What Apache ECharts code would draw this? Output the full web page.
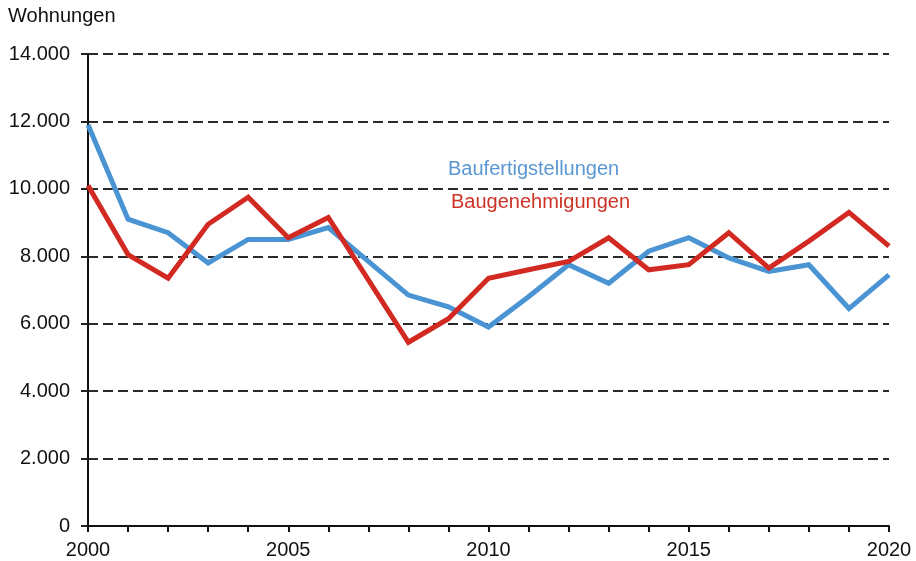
<!DOCTYPE html>
<html>
<head>
<meta charset="utf-8">
<script src="https://cdn.jsdelivr.net/npm/echarts@6/dist/echarts.min.js"></script>
<style>
  html, body { margin: 0; padding: 0; background: #fff; }
  #chart { width: 916px; height: 561px; }
</style>
</head>
<body>
<div id="chart"></div>
<script>
// Jahre 2000 - 2020
const years = ['2000', '2001', '2002', '2003', '2004', '2005', '2006', '2007', '2008', '2009', '2010',
    '2011', '2012', '2013', '2014', '2015', '2016', '2017', '2018', '2019', '2020'];
// Baufertigstellungen (blau)
const fertig = [11900, 9100, 8700, 7800, 8500, 8500, 8850, 7850, 6850, 6500, 5900,
    6800, 7750, 7200, 8150, 8550, 7950, 7550, 7750, 6450, 7450];
// Baugenehmigungen (rot)
const genehm = [10100, 8050, 7350, 8950, 9750, 8550, 9150, 7300, 5450, 6150, 7350,
    7600, 7850, 8550, 7600, 7750, 8700, 7650, 8450, 9300, 8300];

const font = '"Liberation Sans", Arial, sans-serif';
const chart = echarts.init(document.getElementById('chart'));

const option = {
    backgroundColor: '#fff',
    animation: false,
    textStyle: { fontFamily: font },
    grid: {
        left: 88,
        right: 27,
        top: 54,
        bottom: 35
    },
    graphic: [
        {
            type: 'text', left: 8, top: 6,
            style: { text: 'Wohnungen', font: '20px ' + font, fill: '#111' }
        },
        {
            type: 'text', left: 448, top: 159,
            style: { text: 'Baufertigstellungen', font: '20px ' + font, fill: '#5a97d2' }
        },
        {
            type: 'text', left: 451, top: 192,
            style: { text: 'Baugenehmigungen', font: '20px ' + font, fill: '#cc3326' }
        }
    ],
    xAxis: {
        type: 'category',
        data: years,
        boundaryGap: false,
        axisLine: { lineStyle: { color: '#111', width: 2 } },
        axisTick: { show: true, interval: 0, length: 6, lineStyle: { color: '#111', width: 2 } },
        axisLabel: {
            interval: 4,
            margin: 14,
            fontSize: 20,
            color: '#111',
            fontFamily: font
        },
        splitLine: { show: false }
    },
    yAxis: {
        type: 'value',
        min: 0,
        max: 14000,
        interval: 2000,
        axisLine: { show: true, lineStyle: { color: '#111', width: 2 } },
        axisTick: { show: true, length: 7, lineStyle: { color: '#222', width: 2 } },
        axisLabel: {
            margin: 18,
            fontSize: 20,
            color: '#111',
            fontFamily: font,
            formatter: function (v) {
                return v === 0 ? '0' : String(v).replace(/\B(?=(\d{3})+(?!\d))/g, '.');
            }
        },
        splitLine: {
            show: true,
            lineStyle: { color: '#2a2a2a', width: 2, type: [10, 5] }
        }
    },
    series: [
        {
            name: 'Baufertigstellungen',
            type: 'line',
            data: fertig,
            symbol: 'none',
            lineStyle: { color: '#4a94d4', width: 5, join: 'miter' },
            z: 3
        },
        {
            name: 'Baugenehmigungen',
            type: 'line',
            data: genehm,
            symbol: 'none',
            lineStyle: { color: '#d22a22', width: 5, join: 'miter' },
            z: 4
        }
    ]
};

chart.setOption(option);
</script>
</body>
</html>
